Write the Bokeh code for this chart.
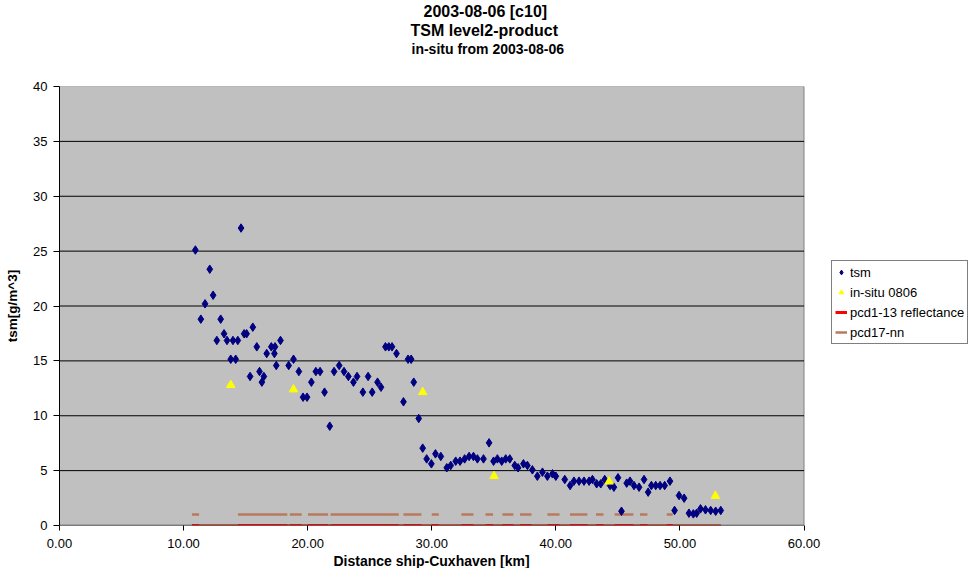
from bokeh.plotting import figure
from bokeh.models import (ColumnDataSource, Legend, LegendItem, FixedTicker,
                          PrintfTickFormatter, Title)
from bokeh.embed import file_html
from bokeh.resources import INLINE

# ---------------- data ----------------
tsm_km = [10.95, 11.39, 11.73, 12.11, 12.38, 12.68, 12.99, 13.26, 13.50, 13.80,
          13.98, 14.20, 14.37, 14.63, 14.88, 15.08, 15.36, 15.58, 15.90, 16.12,
          16.31, 16.47, 16.70, 17.07, 17.32, 17.37, 17.47, 17.81, 18.47, 18.86,
          19.29, 19.63, 19.95, 20.30, 20.66, 21.00, 21.36, 21.78, 22.13, 22.54,
          22.93, 23.28, 23.69, 23.98, 24.45, 24.87, 25.20, 25.63, 25.91, 26.27,
          26.54, 26.80, 27.16, 27.72, 28.09, 28.34, 28.55, 28.95, 29.27, 29.59,
          29.97, 30.30, 30.73, 31.21, 31.53, 31.93, 32.28, 32.65, 33.01, 33.36,
          33.68, 34.17, 34.62, 34.98, 35.29, 35.64, 35.96, 36.29, 36.69, 36.96,
          37.39, 37.71, 38.11, 38.51, 38.92, 39.32, 39.73, 40.00, 40.72, 41.15,
          41.46, 41.87, 42.27, 42.68, 42.95, 43.29, 43.62, 43.94, 44.37, 44.68,
          45.01, 45.29, 45.71, 45.98, 46.30, 46.71, 47.11, 47.44, 47.70, 48.05,
          48.40, 48.77, 49.20, 49.57, 49.93, 50.34, 50.73, 51.08, 51.35, 51.66,
          52.06, 52.48, 52.88, 53.29]
tsm_val = [25.1, 18.8, 20.2, 23.35, 20.98, 16.86, 18.8, 17.47, 16.86, 15.15,
           16.86, 15.15, 16.86, 27.1, 17.47, 17.47, 13.58, 18.07, 16.28, 14.03,
           13.06, 13.58, 15.67, 16.28, 15.67, 16.28, 14.58, 16.86, 14.58, 15.15,
           14.03, 11.69, 11.69, 13.06, 14.03, 14.03, 12.15, 9.05, 14.03, 14.58,
           14.03, 13.58, 13.06, 13.58, 12.15, 13.58, 12.15, 13.06, 12.6, 16.28,
           16.28, 16.28, 15.67, 11.27, 15.15, 15.15, 13.06, 9.75, 7.05, 6.07,
           5.62, 6.53, 6.29, 5.26, 5.47, 5.86, 5.86, 6.07, 6.29, 6.29,
           6.07, 6.07, 7.53, 5.86, 6.07, 5.86, 6.07, 6.07, 5.47, 5.26,
           5.62, 5.47, 5.07, 4.49, 4.86, 4.49, 4.71, 4.49, 4.19, 3.64,
           4.04, 4.04, 4.04, 4.04, 4.19, 3.8, 3.8, 4.19, 3.64, 3.49,
           4.35, 1.3, 3.86, 4.04, 3.64, 3.49, 4.19, 3.04, 3.64, 3.64,
           3.64, 3.64, 4.04, 1.37, 2.73, 2.49, 1.12, 1.06, 1.12, 1.52,
           1.43, 1.37, 1.3, 1.37]

insitu_km = [13.80, 18.86, 29.27, 35.02, 44.29, 52.86]
insitu_val = [12.8, 12.4, 12.15, 4.5, 4.0, 2.7]

# pcd17-nn: stretches where the flag is 1 (elsewhere 0) along the track
pcd17_on_start = [10.67, 14.38, 18.56, 20.03, 21.85, 27.72, 30.00, 32.39, 34.33,
                  35.69, 37.11, 39.32, 41.14, 43.24, 44.74, 46.78, 48.94]
pcd17_on_end = [11.25, 18.36, 19.52, 21.65, 27.34, 29.17, 30.57, 33.36, 34.94,
                36.58, 38.04, 40.30, 42.54, 43.84, 46.25, 47.38, 49.42]
track_start = 10.67
track_end = 53.29
pcd113_level = 0.0
pcd17_on_level = 1.0
pcd17_off_level = 0.0

# axes
x_min, x_max = 0, 60
y_min, y_max = 0, 40
x_ticks = [0, 10, 20, 30, 40, 50, 60]
y_ticks = [0, 5, 10, 15, 20, 25, 30, 35, 40]
grid_ticks = [5, 10, 15, 20, 25, 30, 35]

title_lines = ["2003-08-06 [c10]", "TSM level2-product", "in-situ from 2003-08-06"]
x_title = "Distance ship-Cuxhaven [km]"
y_title = "tsm[g/m^3]"

# ---------------- derived sources ----------------
off_start = []
off_end = []
for i in range(len(pcd17_on_start) - 1):
    off_start.append(pcd17_on_end[i])
    off_end.append(pcd17_on_start[i + 1])
off_start.append(pcd17_on_end[-1])
off_end.append(track_end)

pcd17_src = ColumnDataSource(dict(
    x0=pcd17_on_start + off_start,
    x1=pcd17_on_end + off_end,
    y=[pcd17_on_level] * len(pcd17_on_start) + [pcd17_off_level] * len(off_start),
))
pcd113_src = ColumnDataSource(dict(x0=[track_start], x1=[track_end], y=[pcd113_level]))
tsm_src = ColumnDataSource(dict(x=tsm_km, y=tsm_val))
insitu_src = ColumnDataSource(dict(x=insitu_km, y=insitu_val))
grid_src = ColumnDataSource(dict(x0=[x_min] * len(grid_ticks),
                                 x1=[x_max] * len(grid_ticks), y=grid_ticks))

FONT = "Liberation Sans"

# the frame reaches to the right edge so that the legend can sit in it;
# the plot area itself is the grey box from x_min..x_max
PLOT_W = 744.5        # pixels of the grey plot area
FRAME_W = 913
FRAME_H = 439
x_view_end = x_max * FRAME_W / PLOT_W

p = figure(frame_width=FRAME_W, frame_height=FRAME_H,
           x_range=(x_min, x_view_end), y_range=(y_min, y_max),
           output_backend="svg", toolbar_location=None,
           min_border_left=59, min_border_right=0, min_border_top=0,
           min_border_bottom=0,
           background_fill_color="white", border_fill_color="white",
           outline_line_color=None)

p.xgrid.visible = False
p.ygrid.visible = False

# plot area, grid
p.quad(left=[x_min], right=[x_max], bottom=[y_min], top=[y_max],
       fill_color="#C0C0C0", line_color="#808080", line_width=1)
p.segment(x0="x0", y0="y", x1="x1", y1="y", source=grid_src,
          line_color="black", line_width=1)

# axes
p.xaxis.ticker = FixedTicker(ticks=x_ticks)
p.yaxis.ticker = FixedTicker(ticks=y_ticks)
p.xaxis.formatter = PrintfTickFormatter(format="%.2f")
for ax in (p.xaxis, p.yaxis):
    ax.major_label_text_font = FONT
    ax.major_label_text_font_size = "13px"
    ax.major_label_text_color = "black"
    ax.axis_label_text_font = FONT
    ax.axis_label_text_font_style = "bold"
    ax.axis_label_text_color = "black"
    ax.major_tick_in = 0
    ax.minor_tick_line_color = None
    ax.major_tick_line_color = "black"
p.xaxis.major_tick_out = 5
p.yaxis.major_tick_out = 6
p.xaxis.axis_line_color = None
p.yaxis.axis_line_color = "black"
p.xaxis.major_label_standoff = 8
p.yaxis.major_label_standoff = 6
p.yaxis.axis_label = y_title
p.yaxis.axis_label_text_font_size = "13.5px"
p.yaxis.axis_label_standoff = 10

# glyphs
r_pcd113 = p.segment(x0="x0", y0="y", x1="x1", y1="y", source=pcd113_src,
                     line_color="#FF0000", line_width=3, line_cap="butt")
r_pcd17 = p.segment(x0="x0", y0="y", x1="x1", y1="y", source=pcd17_src,
                    line_color="#B87A5E", line_width=2.5, line_cap="butt")
p.segment(x0=[x_min], y0=[y_min], x1=[x_max], y1=[y_min],
          line_color="#404040", line_width=1.5)
r_tsm = p.scatter("x", "y", source=tsm_src, marker="diamond", size=8.5,
                  fill_color="#000080", line_color="#000080")
r_ins = p.scatter("x", "y", source=insitu_src, marker="triangle", size=8.5,
                  fill_color="#FFFF00", line_color="#FFFF00")

# empty gap between the titles and the plot area (zero-width, white)
p.add_layout(Title(text="\u200b", text_font_size="2px", text_color="white",
                   standoff=26), "above")

# titles (first added = closest to the plot)
title_sizes = ["16px", "16px", "14px"]
title_offsets = [364, 351, 352]
for idx in [2, 1, 0]:
    p.add_layout(Title(text=title_lines[idx], align="left",
                       offset=title_offsets[idx],
                       text_font=FONT, text_font_size=title_sizes[idx],
                       text_font_style="bold", text_color="black",
                       standoff=0), "above")

# x-axis title, centred under the grey plot area
p.add_layout(Title(text=x_title, align="left", offset=274,
                   text_font=FONT, text_font_size="14px",
                   text_font_style="bold", text_color="black",
                   standoff=0), "below")

legend = Legend(items=[
    LegendItem(label="tsm", renderers=[r_tsm]),
    LegendItem(label="in-situ 0806", renderers=[r_ins]),
    LegendItem(label="pcd1-13 reflectance", renderers=[r_pcd113]),
    LegendItem(label="pcd17-nn", renderers=[r_pcd17]),
], location=(772, 181))
legend.border_line_color = "black"
legend.border_line_width = 1
legend.background_fill_color = "white"
legend.background_fill_alpha = 1
legend.label_text_font = FONT
legend.label_text_font_size = "13px"
legend.label_text_color = "black"
legend.padding = 3
legend.spacing = 4
legend.label_height = 16
legend.glyph_height = 16
legend.glyph_width = 12
legend.label_standoff = 3
legend.margin = 0
p.add_layout(legend, "center")

open("out.html", "w").write(file_html(p, INLINE))
